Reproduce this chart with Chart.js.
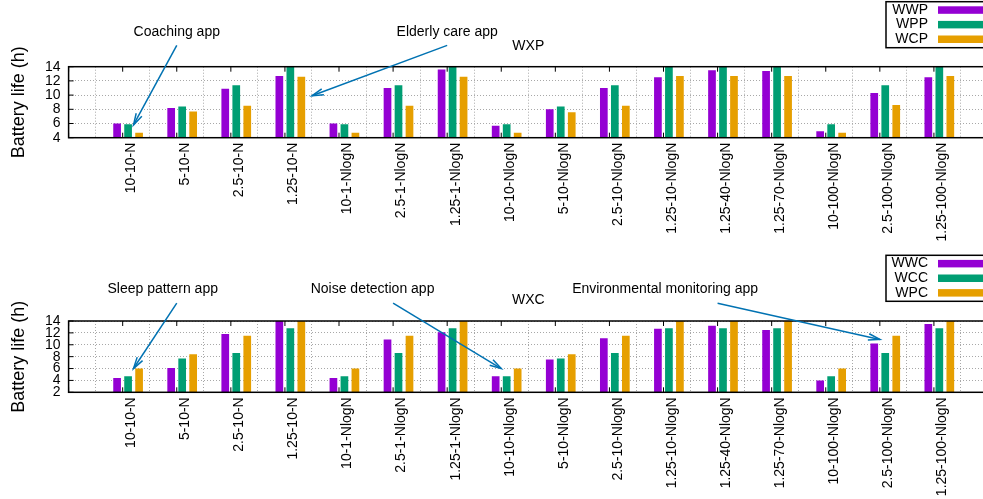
<!DOCTYPE html>
<html>
<head>
<meta charset="utf-8">
<script src="https://cdn.jsdelivr.net/npm/chart.js@4"></script>
<style>
  html, body { margin: 0; padding: 0; overflow: hidden; background: #fff; width: 983px; height: 499px; }
  canvas { position: absolute; left: 0; }
  #wxp { top: 0; }
  #wxc { top: 250px; }
</style>
</head>
<body>
<canvas id="wxp" width="1000" height="250"></canvas>
<canvas id="wxc" width="1000" height="249"></canvas>
<script>
(() => {
  'use strict'

  // Data
  const categories = ['10-10-N', '5-10-N', '2.5-10-N', '1.25-10-N', '10-1-NlogN', '2.5-1-NlogN',
    '1.25-1-NlogN', '10-10-NlogN', '5-10-NlogN', '2.5-10-NlogN', '1.25-10-NlogN', '1.25-40-NlogN',
    '1.25-70-NlogN', '10-100-NlogN', '2.5-100-NlogN', '1.25-100-NlogN'];

  const wwp = [6.0, 8.2, 10.9, 12.7, 6.0, 11.0, 13.6, 5.7, 8.0, 11.0, 12.5, 13.5, 13.4, 4.9, 10.3, 12.5];
  const wpp = [5.9, 8.4, 11.4, 14.2, 5.9, 11.4, 14.2, 5.9, 8.4, 11.4, 14.2, 14.2, 14.2, 5.9, 11.4, 14.2];
  const wcp = [4.7, 7.7, 8.5, 12.6, 4.7, 8.5, 12.6, 4.7, 7.6, 8.5, 12.7, 12.7, 12.7, 4.7, 8.6, 12.7];

  const wwc = [4.4, 6.1, 11.8, 14.2, 4.4, 10.9, 12.1, 4.7, 7.5, 11.1, 12.7, 13.2, 12.5, 4.0, 10.2, 13.5];
  const wcc = [4.7, 7.7, 8.6, 12.8, 4.7, 8.6, 12.8, 4.7, 7.7, 8.6, 12.8, 12.8, 12.8, 4.7, 8.6, 12.8];
  const wpc = [6.0, 8.4, 11.5, 14.2, 6.0, 11.5, 14.2, 6.0, 8.4, 11.5, 14.2, 14.2, 14.2, 6.0, 11.5, 14.2];

  const yTicksTop = [4, 6, 8, 10, 12, 14];
  const yTicksBottom = [2, 4, 6, 8, 10, 12, 14];

  // annotations in data coordinates: [x, y]
  const notesTop = [
    { text: 'Coaching app', at: [2.0, 18.9], from: [2.0, 17], to: [1.2, 5.8] },
    { text: 'Elderly care app', at: [7.0, 18.9], from: [7.0, 17], to: [4.5, 9.9] }
  ];
  const notesBottom = [
    { text: 'Sleep pattern app', at: [1.74, 19.3], from: [2.0, 17], to: [1.2, 6.0] },
    { text: 'Noise detection app', at: [5.62, 19.3], from: [6.0, 17], to: [8.0, 6.0] },
    { text: 'Environmental monitoring app', at: [11.03, 19.3], from: [12.0, 17], to: [15.0, 10.9] }
  ];

  const colors = ['#9400d3', '#009e73', '#e69f00'];
  const FONT = '"Liberation Sans", Arial, sans-serif';
  Chart.defaults.font.family = FONT;
  Chart.defaults.color = '#000';

  const arrow = (ctx, x1, y1, x2, y2) => {
    const ang = Math.atan2(y2 - y1, x2 - x1), len = 12, spread = 0.27;
    ctx.beginPath(); ctx.moveTo(x1, y1); ctx.lineTo(x2, y2); ctx.stroke();
    ctx.beginPath();
    ctx.moveTo(x2 - len * Math.cos(ang - spread), y2 - len * Math.sin(ang - spread));
    ctx.lineTo(x2, y2);
    ctx.lineTo(x2 - len * Math.cos(ang + spread), y2 - len * Math.sin(ang + spread));
    ctx.stroke();
  };

  // frame, inward ticks, title, notes and legend in gnuplot style
  const gnuplotDecor = {
    id: 'gnuplotDecor',
    afterDatasetsDraw(chart, args, opts) {
      const { ctx, chartArea: a, scales: { x, y } } = chart;
      ctx.save();
      ctx.strokeStyle = '#000';
      ctx.lineWidth = 1;
      ctx.beginPath();
      x.ticks.forEach(t => {
        const px = x.getPixelForValue(t.value);
        ctx.moveTo(px, a.bottom); ctx.lineTo(px, a.bottom - 5);
        ctx.moveTo(px, a.top); ctx.lineTo(px, a.top + 5);
      });
      y.ticks.forEach(t => {
        const py = y.getPixelForValue(t.value);
        ctx.moveTo(a.left, py); ctx.lineTo(a.left + 5, py);
      });
      ctx.stroke();
      ctx.lineWidth = 1.5;
      ctx.strokeRect(a.left, a.top, a.right - a.left, a.bottom - a.top);

      ctx.font = '14px ' + FONT;
      ctx.fillStyle = '#000';
      ctx.textAlign = 'center';
      ctx.textBaseline = 'middle';
      ctx.fillText(opts.title, (a.left + a.right) / 2, a.top - 21);

      opts.notes.forEach(n => {
        ctx.fillStyle = '#000';
        ctx.fillText(n.text, x.getPixelForValue(n.at[0]), y.getPixelForValue(n.at[1]));
        ctx.strokeStyle = '#0072b2';
        ctx.lineWidth = 1.5;
        arrow(ctx, x.getPixelForValue(n.from[0]), y.getPixelForValue(n.from[1]),
          x.getPixelForValue(n.to[0]), y.getPixelForValue(n.to[1]));
      });

      // legend box
      const top = opts.legendTop;
      ctx.strokeStyle = '#000';
      ctx.lineWidth = 1.5;
      ctx.strokeRect(886, top, 110, 46);
      ctx.textAlign = 'right';
      chart.data.datasets.forEach((ds, i) => {
        const cy = top + 8.3 + i * 14.6;
        ctx.fillStyle = '#000';
        ctx.fillText(ds.label, 928, cy);
        ctx.fillStyle = ds.backgroundColor;
        ctx.fillRect(938, cy - 3.7, 60, 7.5);
      });
      ctx.restore();
    }
  };

  const makeChart = (id, series, labels, yTicks, notes, title, legendTop, padTop, axisHeight) => {
    const ctx = document.getElementById(id).getContext('2d');
    return new Chart(ctx, {
      type: 'bar',
      data: {
        datasets: series.map((vals, k) => ({
          label: labels[k],
          data: vals.map((v, i) => ({ x: i + 1.1, y: v })),
          backgroundColor: colors[k],
          categoryPercentage: 0.61,
          barPercentage: 0.7
        }))
      },
      options: {
        responsive: false,
        animation: false,
        layout: { padding: { top: padTop, right: 12, left: 0, bottom: 0 } },
        plugins: {
          legend: { display: false },
          tooltip: { enabled: false },
          gnuplotDecor: { title, notes, legendTop }
        },
        scales: {
          x: {
            type: 'linear',
            offset: false,
            min: 0,
            max: categories.length + 1,
            afterBuildTicks: s => { s.ticks = [...Array(categories.length + 2).keys()].map(v => ({ value: v })) },
            afterFit: s => { s.height = axisHeight; s.paddingLeft = 0; s.paddingRight = 0 },
            ticks: {
              autoSkip: false,
              minRotation: 90,
              maxRotation: 90,
              padding: 5,
              labelOffset: 8.5,
              font: { size: 14 },
              callback: v => categories[v - 1] ?? ''
            },
            grid: { color: '#a8a8a8', drawTicks: false, tickLength: 0 },
            border: { display: false, dash: [1, 2] }
          },
          y: {
            min: yTicks[0],
            max: yTicks[yTicks.length - 1],
            afterBuildTicks: s => { s.ticks = yTicks.map(v => ({ value: v })) },
            afterFit: s => { s.width = 68.6; s.paddingTop = 0; s.paddingBottom = 0 },
            ticks: { autoSkip: false, padding: 8, font: { size: 14 } },
            grid: { color: '#a8a8a8', drawTicks: false, tickLength: 0 },
            border: { display: false, dash: [1, 2] },
            title: { display: true, text: 'Battery life (h)', font: { size: 18 }, padding: { top: 8, bottom: 0 } }
          }
        }
      },
      plugins: [gnuplotDecor]
    });
  };

  makeChart('wxp', [wwp, wpp, wcp], ['WWP', 'WPP', 'WCP'], yTicksTop, notesTop, 'WXP', 1.7, 66.7, 112.3);
  makeChart('wxc', [wwc, wcc, wpc], ['WWC', 'WCC', 'WPC'], yTicksBottom, notesBottom, 'WXC', 5.3, 71, 106.7);
})()
</script>
</body>
</html>
